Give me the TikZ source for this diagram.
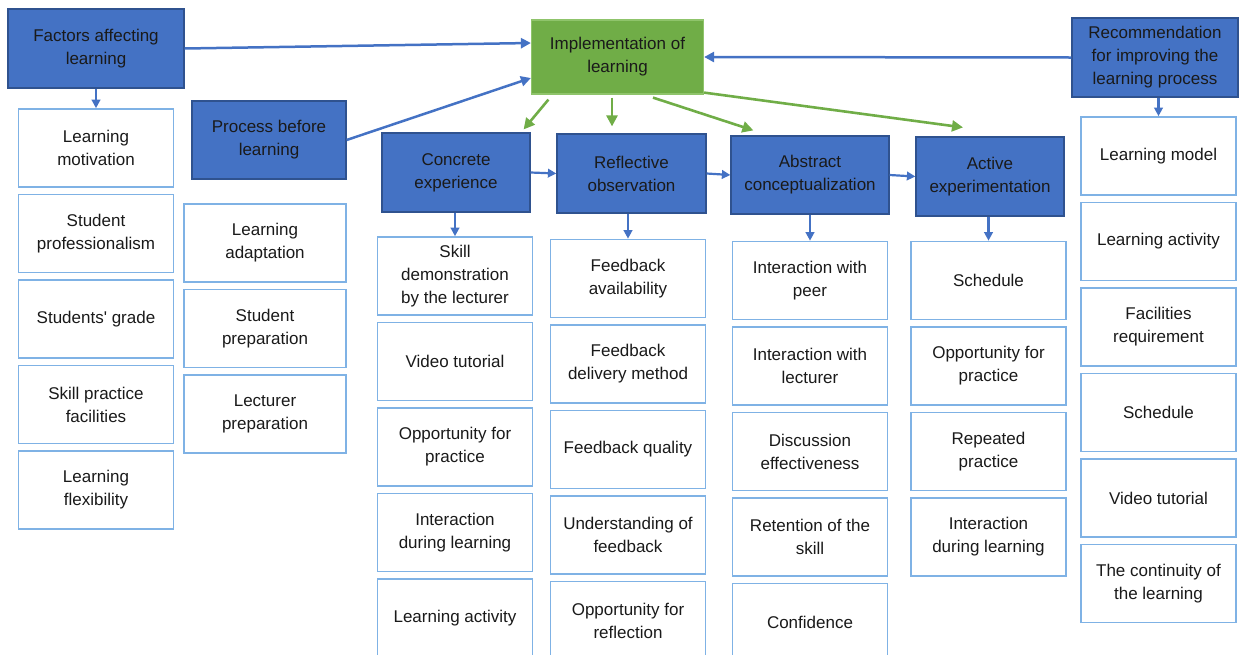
\documentclass[tikz,border=0pt]{standalone}
\usepackage{fontspec}
\setmainfont{Liberation Sans}
\usetikzlibrary{positioning,arrows.meta}
\definecolor{boxblue}{HTML}{4472C4}
\definecolor{boxedge}{HTML}{2F528F}
\definecolor{boxgreen}{HTML}{70AD47}
\definecolor{greenedge}{HTML}{8FC46B}
\definecolor{itemedge}{HTML}{7FB2E5}
\definecolor{ink}{HTML}{1A1A1A}

\begin{document}
\begin{tikzpicture}[x=1pt,y=-1pt,node distance=85.5pt,on grid,
    every node/.style={font=\fontsize{17}{23}\selectfont,text=ink,align=center},
    headbox/.style={draw=boxedge,fill=boxblue,line width=1.2pt,minimum width=148pt,minimum height=79pt,inner sep=2pt},
    implbox/.style={draw=greenedge,fill=boxgreen,line width=1.2pt,minimum width=172pt,minimum height=74pt,inner sep=2pt},
    itembox/.style={draw=itemedge,fill=white,line width=1.6pt,minimum width=155pt,minimum height=78pt,inner sep=2pt},
    blueline/.style={color=boxblue,line width=2.5pt,-{Triangle[length=10pt,width=10pt]}},
    greenline/.style={color=boxgreen,line width=2.6pt,-{Triangle[length=11pt,width=11pt]}},
    downline/.style={color=boxblue,line width=2.2pt,-{Triangle[length=8.5pt,width=8.5pt]}}]
    \useasboundingbox (0,0) rectangle (1245,654);
    \clip (0,0) rectangle (1245,654);

    % top row
    \node[headbox,minimum width=176pt] (factors) at (96,48.5) {Factors affecting\\learning};
    \node[headbox,minimum width=154pt,minimum height=78pt] (before) at (269,140) {Process before\\learning};
    \node[implbox] (impl) at (617.5,57) {Implementation of\\learning};
    \node[headbox,minimum width=166pt] (recom) at (1155,57.5) {Recommendation\\for improving the\\learning process};

    % the four stages
    \node[headbox] (concrete) at (456,172.5) {Concrete\\experience};
    \node[headbox,minimum width=149pt] (reflective) at (631.5,173.5) {Reflective\\observation};
    \node[headbox,minimum width=158pt,minimum height=78pt] (abstract) at (810,175) {Abstract\\conceptualization};
    \node[headbox] (active) at (990,176.5) {Active\\experimentation};

    % factors
    \node[itembox] (motiv) at (96,148) {Learning\\motivation};
    \node[itembox] (profess) [below=of motiv] {Student\\professionalism};
    \node[itembox] (grade) [below=of profess] {Students\textquotesingle\ grade};
    \node[itembox] (facil) [below=of grade] {Skill practice\\facilities};
    \node[itembox] (flex) [below=of facil] {Learning\\flexibility};

    % before learning
    \node[itembox,minimum width=162pt] (adapt) at (265,243) {Learning\\adaptation};
    \node[itembox,minimum width=162pt] (studprep) [below=of adapt] {Student\\preparation};
    \node[itembox,minimum width=162pt] (lectprep) [below=of studprep] {Lecturer\\preparation};

    % concrete experience
    \node[itembox] (skill) at (455,276) {Skill\\demonstration\\by the lecturer};
    \node[itembox] (videoc) [below=of skill] {Video tutorial};
    \node[itembox] (oppc) [below=of videoc] {Opportunity for\\practice};
    \node[itembox] (interc) [below=of oppc] {Interaction\\during learning};
    \node[itembox] (activc) [below=of interc] {Learning activity};

    % reflective observation
    \node[itembox] (fbavail) at (628,278.5) {Feedback\\availability};
    \node[itembox] (fbdeliv) [below=of fbavail] {Feedback\\delivery method};
    \node[itembox] (fbqual) [below=of fbdeliv] {Feedback quality};
    \node[itembox] (fbunder) [below=of fbqual] {Understanding of\\feedback};
    \node[itembox] (reflect) [below=of fbunder] {Opportunity for\\reflection};

    % abstract conceptualization
    \node[itembox] (peer) at (810,280.5) {Interaction with\\peer};
    \node[itembox] (lecturer) [below=of peer] {Interaction with\\lecturer};
    \node[itembox] (discuss) [below=of lecturer] {Discussion\\effectiveness};
    \node[itembox] (retain) [below=of discuss] {Retention of the\\skill};
    \node[itembox] (confid) [below=of retain] {Confidence};

    % active experimentation
    \node[itembox] (scheda) at (988.5,280.5) {Schedule};
    \node[itembox] (oppa) [below=of scheda] {Opportunity for\\practice};
    \node[itembox] (repeat) [below=of oppa] {Repeated\\practice};
    \node[itembox] (intera) [below=of repeat] {Interaction\\during learning};

    % recommendation
    \node[itembox] (model) at (1158.5,156) {Learning model};
    \node[itembox] (activr) [below=of model] {Learning activity};
    \node[itembox] (facreq) [below=of activr] {Facilities\\requirement};
    \node[itembox] (schedr) [below=of facreq] {Schedule};
    \node[itembox] (videor) [below=of schedr] {Video tutorial};
    \node[itembox] (contin) [below=of videor] {The continuity of\\the learning};

    \path[blueline]
    (factors.east) edge ([shift={(0,-14)}]impl.west)
    (before.east) edge ([shift={(0,21)}]impl.west)
    (recom.west) edge (impl.east)
    ;
    \path[greenline]
    ([shift={(17.5,5)}]impl.south west) edge ([shift={(-7,-3)}]concrete.north east)
    ([shift={(-5.5,3)}]impl.south) edge ([shift={(-19.5,-7)}]reflective.north)
    ([shift={(35.5,3)}]impl.south) edge ([shift={(23,-5)}]abstract.north west)
    ([shift={(0,-2)}]impl.south east) edge ([shift={(-27,-9)}]active.north)
    ;
    \path[downline]
    (concrete.east) edge (reflective.west)
    (reflective.east) edge (abstract.west)
    (abstract.east) edge (active.west)
    (factors.south) edge (motiv.north)
    (skill.north |- concrete.south) edge (skill.north)
    (fbavail.north |- reflective.south) edge (fbavail.north)
    (peer.north |- abstract.south) edge (peer.north)
    (scheda.north |- active.south) edge (scheda.north)
    (model.north |- recom.south) edge (model.north)
    ;
  \end{tikzpicture}
\end{document}
